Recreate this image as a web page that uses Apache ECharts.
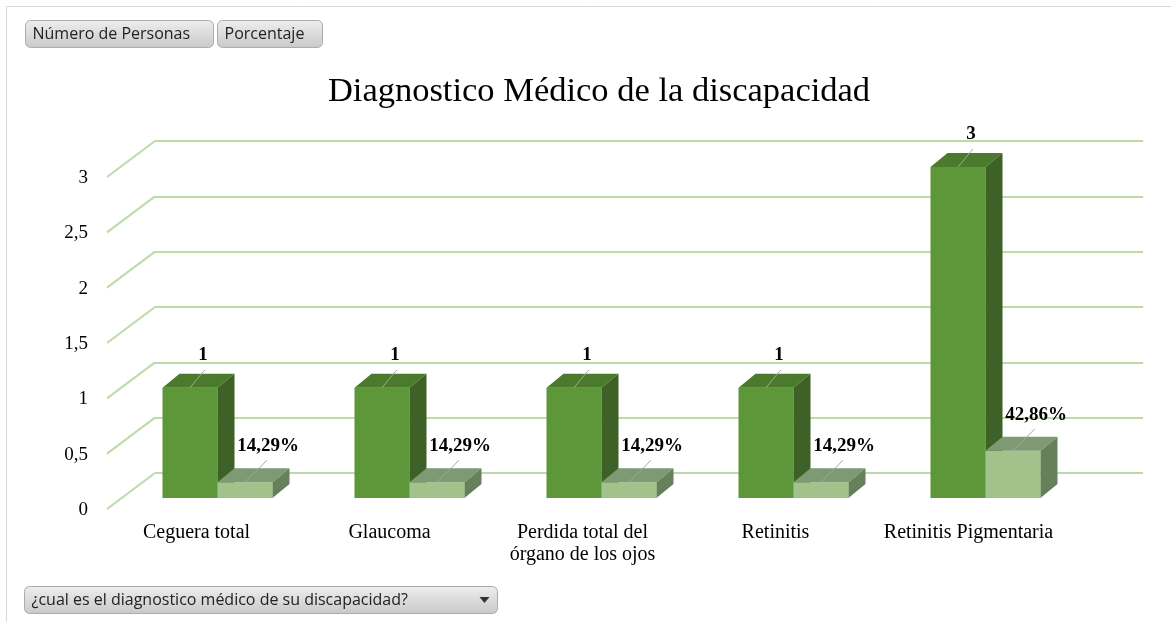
<!DOCTYPE html>
<html>
<head>
<meta charset="utf-8">
<script src="https://cdn.jsdelivr.net/npm/echarts@6/dist/echarts.min.js"></script>
<style>
  html, body { margin: 0; padding: 0; background: #fff; }
  #chart { width: 1171px; height: 622px; }
</style>
</head>
<body>
<div id="chart"></div>
<script>
const categories = ['Ceguera total', 'Glaucoma', 'Perdida total del\nórgano de los ojos', 'Retinitis', 'Retinitis Pigmentaria'];
const personas = [1, 1, 1, 1, 3];
const porcentaje = [14.29, 14.29, 14.29, 14.29, 42.86];
const yTicks = [0, 0.5, 1, 1.5, 2, 2.5, 3];

const serif = '"Liberation Serif", "Times New Roman", serif';
const sans = '"Open Sans", "DejaVu Sans", sans-serif';

let myChart = echarts.init(document.getElementById('chart'));

// 3d bar: front face, top, side, leader line and label
function bar3d(isFirst, colors, fmt, lead, lab) {
    return function(params, api) {
        const ci = api.value(0);
        const v = api.value(1);
        const top = api.coord([ci, v]);
        const base = api.coord([ci, 0]);
        const w = api.size([1, 0])[0] * 0.2865;
        const x0 = isFirst ? top[0] - w : top[0];
        const x1 = x0 + w;
        const dx = 17, dy = -14;
        const yt = top[1], yb = base[1];
        const mx = x0 + w / 2;
        return {
            type: 'group',
            children: [
                { type: 'rect', shape: { x: x0, y: yt, width: w, height: yb - yt }, style: { fill: colors[0] } },
                { type: 'polygon', shape: { points: [[x0, yt], [x0 + dx, yt + dy], [x1 + dx, yt + dy], [x1, yt]] }, style: { fill: colors[1] } },
                { type: 'polygon', shape: { points: [[x1, yt], [x1 + dx, yt + dy], [x1 + dx, yb + dy], [x1, yb]] }, style: { fill: colors[2] } },
                { type: 'line', shape: { x1: mx, y1: yt, x2: mx + lead[0], y2: yt + lead[1] }, style: { stroke: '#A6A6A6', lineWidth: 1 } },
                { type: 'text', x: mx + lab[0], y: yt + lab[1], style: {
                    text: fmt(params.dataIndex), fill: '#000', font: 'bold 19px ' + serif,
                    align: 'center', verticalAlign: 'middle' } }
            ]
        };
    };
}

function button(x, y, w, h, label, arrow) {
    const kids = [
        { type: 'rect', shape: { x: x, y: y, width: w, height: h, r: 5 },
          style: { fill: new echarts.graphic.LinearGradient(0, 0, 0, 1, [
              { offset: 0, color: '#EEEEEE' }, { offset: 1, color: '#C9C9C9' }]),
              stroke: '#ABABAB', lineWidth: 1 } },
        { type: 'text', x: x + 7, y: y + h / 2, style: { text: label, fill: '#222', font: '16px ' + sans, verticalAlign: 'middle' } }
    ];
    if (arrow) {
        kids.push({ type: 'polygon', shape: { points: [[x + w - 18, y + h / 2 - 3], [x + w - 8, y + h / 2 - 3], [x + w - 13, y + h / 2 + 3]] }, style: { fill: '#333' } });
    }
    return { type: 'group', children: kids };
}

const option = {
    animation: false,
    title: {
        text: 'Diagnostico Médico de la discapacidad',
        left: 594, textAlign: 'center', top: 69,
        textStyle: { fontFamily: serif, fontSize: 34.5, fontWeight: 'normal', color: '#000' }
    },
    grid: [
        { left: 155, right: 28, top: 141, bottom: 149 },
        { left: 100, right: 106, top: 178, bottom: 112 },
        { left: 121.5, right: 89.5, top: 167, bottom: 124 }
    ],
    xAxis: [
        { gridIndex: 0, type: 'value', min: 0, max: 1, show: false },
        { gridIndex: 1, type: 'category', data: categories,
          axisLine: { show: false }, axisTick: { show: false },
          axisLabel: { margin: 12, fontFamily: serif, fontSize: 20, color: '#000', lineHeight: 22, interval: 0 } },
        { gridIndex: 2, type: 'category', data: categories, show: false }
    ],
    yAxis: [
        { gridIndex: 0, type: 'value', min: 0, max: 3, interval: 0.5,
          axisLabel: { show: false }, axisLine: { show: false }, axisTick: { show: false },
          splitLine: { lineStyle: { color: '#BCDBA8', width: 2 } } },
        { gridIndex: 1, type: 'value', min: 0, max: 3, interval: 0.5,
          axisLine: { show: false }, axisTick: { show: false }, splitLine: { show: false },
          axisLabel: { margin: 12, fontFamily: serif, fontSize: 19, color: '#000',
              formatter: v => String(v).replace('.', ',') } },
        { gridIndex: 2, type: 'value', min: 0, max: 3, show: false }
    ],
    series: [
        {
            type: 'custom', xAxisIndex: 0, yAxisIndex: 0,
            data: yTicks.map(t => [0, t]),
            renderItem: function(params, api) {
                const p = api.coord([0, api.value(1)]);
                return { type: 'line', shape: { x1: p[0], y1: p[1], x2: p[0] - 48, y2: p[1] + 36 },
                    style: { stroke: '#BCDBA8', lineWidth: 2 } };
            }
        },
        {
            type: 'custom', name: 'Número de Personas', xAxisIndex: 2, yAxisIndex: 2,
            data: personas.map((v, i) => [i, v]),
            renderItem: bar3d(true, ['#5E963A', '#4B7A2C', '#3E6127'],
                i => String(personas[i]), [15, -18], [13, -33])
        },
        {
            type: 'custom', name: 'Porcentaje', xAxisIndex: 2, yAxisIndex: 2,
            data: porcentaje.map((v, i) => [i, v / 100]),
            renderItem: bar3d(false, ['#A1C38B', '#7E9A72', '#66805B'],
                i => porcentaje[i].toFixed(2).replace('.', ',') + '%', [22, -22], [23, -36])
        }
    ],
    graphic: [
        { type: 'line', shape: { x1: 6, y1: 6.5, x2: 1171, y2: 6.5 }, style: { stroke: '#D9D9D9', lineWidth: 1 } },
        { type: 'line', shape: { x1: 6.5, y1: 6, x2: 6.5, y2: 622 }, style: { stroke: '#D9D9D9', lineWidth: 1 } },
        button(25.5, 20.5, 188, 27, 'Número de Personas', false),
        button(217.5, 20.5, 105, 27, 'Porcentaje', false),
        button(24.5, 586.5, 473, 27, '¿cual es el diagnostico médico de su discapacidad?', true)
    ]
};

myChart.setOption(option);
</script>
</body>
</html>
